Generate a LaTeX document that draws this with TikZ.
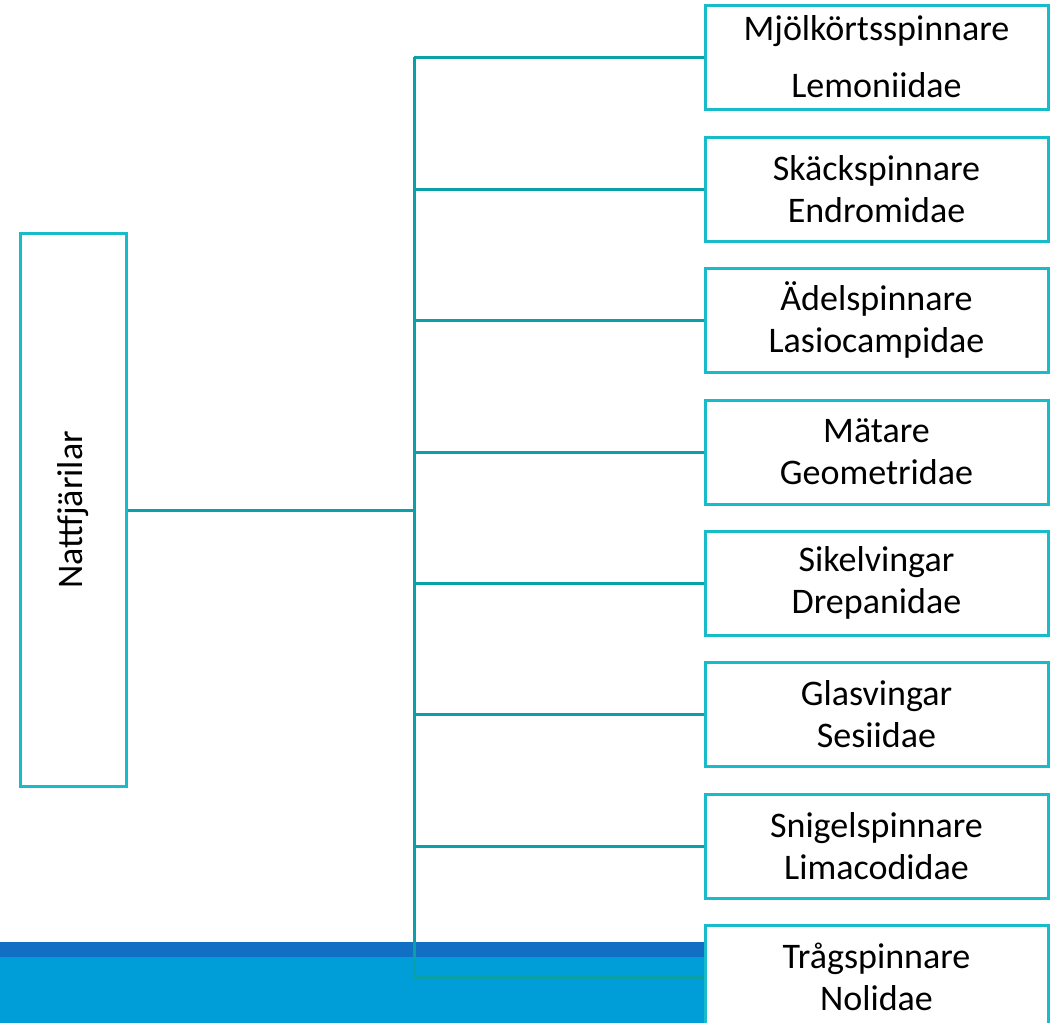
\documentclass[tikz,border=0pt]{standalone}
\usepackage{fontspec}
\setmainfont{Carlito}
\definecolor{boxc}{RGB}{23,188,200}
\definecolor{linec}{RGB}{10,160,168}
\definecolor{banddark}{RGB}{17,112,196}
\definecolor{bandlight}{RGB}{0,158,216}
\pgfdeclarelayer{bg}
\pgfsetlayers{bg,main}
\tikzset{
  famtext/.style={font=\fontsize{36pt}{42pt}\selectfont},
  fambox/.style={draw=boxc, line width=3pt, fill=white, famtext, align=center,
    minimum width=343pt, minimum height=104pt, inner sep=0pt},
  rootbox/.style={draw=boxc, line width=3pt, fill=white, famtext, rotate=90,
    minimum width=553pt, minimum height=106pt, inner sep=0pt},
  conn/.style={draw=linec, line width=3pt}
}
\begin{document}
\begin{tikzpicture}[x=1pt,y=-1pt]
\useasboundingbox (0,0) rectangle (1050,1023);
\clip (0,0) rectangle (1050,1023);
% root
\node[rootbox] (root) at (73,510) {Nattfjärilar};
% junction coordinates
\coordinate (j) at (414,510);
\coordinate (ttop) at (414,57);
\coordinate (tbot) at (414,977);
% family boxes
\node[fambox] (b1) at (876.5,57) {Mjölkörtsspinnare\\[15pt]Lemoniidae};
\node[fambox] (b2) at (876.5,189) {Skäckspinnare\\Endromidae};
\node[fambox] (b3) at (876.5,320) {Ädelspinnare\\Lasiocampidae};
\node[fambox] (b4) at (876.5,452) {Mätare\\Geometridae};
\node[fambox] (b5) at (876.5,583) {Sikelvingar\\Drepanidae};
\node[fambox] (b6) at (876.5,714) {Glasvingar\\Sesiidae};
\node[fambox] (b7) at (876.5,846) {Snigelspinnare\\Limacodidae};
\node[fambox] (b8) at (876.5,977) {Trågspinnare\\Nolidae};
\begin{pgfonlayer}{bg}
  % blue band
  \fill[banddark] (0,942) rectangle (1050,957);
  \fill[bandlight] (0,957) rectangle (1050,1023);
  % connectors
  \path[conn] (root.south) -- (j);
  \path[conn] (ttop) -- (tbot);
  \foreach \i in {1,...,8} {
    \path[conn] (b\i.west -| j) -- (b\i.west);
  }
\end{pgfonlayer}
\end{tikzpicture}
\end{document}
